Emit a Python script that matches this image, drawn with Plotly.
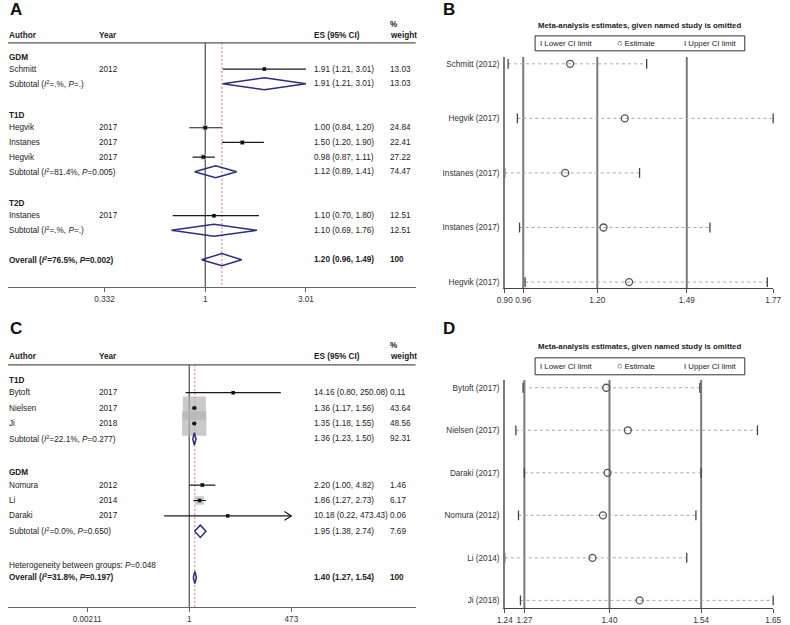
import math
import plotly.graph_objects as go

W, H = 790, 625
FONT = "Liberation Sans, Arial, Helvetica, sans-serif"
TXT = "#222222"
BODY = 8.2

# ---------------- Panel A data (forest plot) ----------------
a_groups = ["GDM", "T1D", "T2D"]
a_authors = [["Schmitt"], ["Hegvik", "Instanes", "Hegvik"], ["Instanes"]]
a_years = [[2012], [2017, 2017, 2017], [2017]]
a_es = [[1.91], [1.00, 1.50, 0.98], [1.10]]
a_lo = [[1.21], [0.84, 1.20, 0.87], [0.70]]
a_hi = [[3.01], [1.20, 1.90, 1.11], [1.80]]
a_wt = [[13.03], [24.84, 22.41, 27.22], [12.51]]
a_sub_es = [1.91, 1.12, 1.10]
a_sub_lo = [1.21, 0.89, 0.69]
a_sub_hi = [3.01, 1.41, 1.76]
a_sub_wt = [13.03, 74.47, 12.51]
a_sub_i2 = [".", "81.4", "."]
a_sub_p = [".", "0.005", "."]
a_overall = [1.20, 0.96, 1.49]          # ES, lower, upper
a_overall_wt = 100
a_overall_i2 = "76.5"
a_overall_p = "0.002"
a_het_p = None
a_ticks = [0.332, 1, 3.01]

# ---------------- Panel B data (sensitivity) ----------------
b_labels = ["Schmitt (2012)", "Hegvik (2017)", "Instanes (2017)", "Instanes (2017)", "Hegvik (2017)"]
b_est = [1.112, 1.289, 1.096, 1.220, 1.303]
b_lower = [0.911, 0.941, 0.900, 0.948, 0.966]
b_upper = [1.360, 1.770, 1.337, 1.565, 1.751]
b_overall = [0.96, 1.20, 1.49]

# ---------------- Panel C data (forest plot) ----------------
c_groups = ["T1D", "GDM"]
c_authors = [["Bytoft", "Nielsen", "Ji"], ["Nomura", "Li", "Daraki"]]
c_years = [[2017, 2017, 2018], [2012, 2014, 2017]]
c_es = [[14.16, 1.36, 1.35], [2.20, 1.86, 10.18]]
c_lo = [[0.80, 1.17, 1.18], [1.00, 1.27, 0.22]]
c_hi = [[250.08, 1.56, 1.55], [4.82, 2.73, 473.43]]
c_wt = [[0.11, 43.64, 48.56], [1.46, 6.17, 0.06]]
c_sub_es = [1.36, 1.95]
c_sub_lo = [1.23, 1.38]
c_sub_hi = [1.50, 2.74]
c_sub_wt = [92.31, 7.69]
c_sub_i2 = ["22.1", "0.0"]
c_sub_p = ["0.277", "0.650"]
c_overall = [1.40, 1.27, 1.54]
c_overall_wt = 100
c_overall_i2 = "31.8"
c_overall_p = "0.197"
c_het_p = "0.048"
c_ticks = [0.00211, 1, 473]

# ---------------- Panel D data (sensitivity) ----------------
d_labels = ["Bytoft (2017)", "Nielsen (2017)", "Daraki (2017)", "Nomura (2012)", "Li (2014)", "Ji (2018)"]
d_est = [1.395, 1.428, 1.397, 1.390, 1.374, 1.446]
d_lower = [1.268, 1.257, 1.270, 1.261, 1.240, 1.264]
d_upper = [1.538, 1.626, 1.540, 1.532, 1.518, 1.650]
d_overall = [1.27, 1.40, 1.54]


def PX(p):
    return p / W


def PY(p):
    return 1 - p / H


fig = go.Figure()
annotations = []
shapes = []


def note(x, y, text, yref="paper", size=BODY, bold=False, anchor="left", color=TXT):
    if bold:
        text = "<b>" + text + "</b>"
    annotations.append(dict(x=x, xref="paper", y=y, yref=yref, text=text, showarrow=False,
                            xanchor=anchor, yanchor="middle", borderpad=0,
                            font=dict(family=FONT, size=size, color=color)))


def fmt_w(w):
    return "100" if w >= 100 else f"{w:.2f}"


def fmt_es(e, l, h):
    return f"{e:.2f} ({l:.2f}, {h:.2f})"


def forest(xa, ya, groups, authors, years, es, lo, hi, wt, s_es, s_lo, s_hi, s_wt, s_i2, s_p,
           ov, ov_wt, ov_i2, ov_p, het_p, ticks, box_k, yrange, xrange_log, domain_px,
           ypx, header_px, pct_px, dia_h):
    yref = ya.replace("axis", "")
    xname = xa.replace("axis", "")
    cols = [0.5, 92, 311.5, 388.5]
    r = 1
    study_rows, grp_rows, sub_rows = [], [], []
    for g, auths in zip(groups, authors):
        grp_rows.append(r)
        r += 1
        study_rows.append(list(range(r, r + len(auths))))
        r += len(auths)
        sub_rows.append(r)
        r += 2
    het_row = r if het_p is not None else None
    ov_row = r + (1 if het_p is not None else 0)

    ytop, ybot = yrange[1], yrange[0]
    fig.add_trace(go.Scatter(x=[1, 1], y=[ytop, ybot], mode="lines", xaxis=xname, yaxis=yref,
                             line=dict(color="#5a5a5a", width=1.3), hoverinfo="skip", showlegend=False))
    fig.add_trace(go.Scatter(x=[ov[0], ov[0]], y=[ytop, ybot], mode="lines", xaxis=xname, yaxis=yref,
                             line=dict(color="#d07878", width=1, dash="2px,2px"),
                             hoverinfo="skip", showlegend=False))
    fx, fy, fw, flo, fhi = [], [], [], [], []
    for gi in range(len(groups)):
        for j in range(len(authors[gi])):
            fx.append(es[gi][j])
            fy.append(study_rows[gi][j])
            fw.append(wt[gi][j])
            flo.append(lo[gi][j])
            fhi.append(hi[gi][j])
    fig.add_trace(go.Scatter(x=fx, y=fy, mode="markers", xaxis=xname, yaxis=yref,
                             marker=dict(symbol="square", size=[box_k * math.sqrt(w) for w in fw],
                                         color="#b4b4b4", line=dict(width=0)),
                             hoverinfo="skip", showlegend=False))
    xmax = max(ticks)
    lx, ly = [], []
    ax_, ay_ = [], []
    for l, h, yy in zip(flo, fhi, fy):
        hh = min(h, xmax)
        lx += [l, hh, None]
        ly += [yy, yy, None]
        if h > xmax:
            ax_ += [xmax / 10 ** 0.18, xmax, xmax / 10 ** 0.18, None]
            ay_ += [yy - 0.28, yy, yy + 0.28, None]
    fig.add_trace(go.Scatter(x=lx + ax_, y=ly + ay_, mode="lines", xaxis=xname, yaxis=yref,
                             line=dict(color="#1a1a1a", width=1.2), hoverinfo="skip", showlegend=False))
    fig.add_trace(go.Scatter(x=fx, y=fy, mode="markers", xaxis=xname, yaxis=yref,
                             marker=dict(symbol="square", size=3.5, color="#111111"),
                             hoverinfo="skip", showlegend=False))
    dx, dy = [], []
    for e, l, h, yy in zip(s_es + [ov[0]], s_lo + [ov[1]], s_hi + [ov[2]], sub_rows + [ov_row]):
        dx += [l, e, h, e, l, None]
        dy += [yy, yy - dia_h, yy, yy + dia_h, yy, None]
    fig.add_trace(go.Scatter(x=dx, y=dy, mode="lines", xaxis=xname, yaxis=yref,
                             line=dict(color="#2c2c86", width=1.5), hoverinfo="skip", showlegend=False))

    note(PX(cols[0]), PY(header_px), "Author", bold=True)
    note(PX(cols[1]), PY(header_px), "Year", bold=True)
    note(PX(cols[2]), PY(header_px), "ES (95% CI)", bold=True)
    note(PX(cols[3]), PY(pct_px), "%", bold=True)
    note(PX(cols[3]), PY(header_px), "weight", bold=True)
    shapes.append(dict(type="line", xref="paper", yref=yref + " domain", x0=0, x1=PX(domain_px[1]),
                       y0=1, y1=1, line=dict(color="#555555", width=1.2)))
    for gi, g in enumerate(groups):
        note(PX(cols[0]), grp_rows[gi] + 0.18, g, yref=yref, bold=True)
        for j, a in enumerate(authors[gi]):
            rr = study_rows[gi][j]
            note(PX(cols[0]), rr, a, yref=yref)
            note(PX(cols[1]), rr, str(years[gi][j]), yref=yref)
            note(PX(cols[2]), rr, fmt_es(es[gi][j], lo[gi][j], hi[gi][j]), yref=yref)
            note(PX(cols[3]), rr, fmt_w(wt[gi][j]), yref=yref)
        rr = sub_rows[gi]
        note(PX(cols[0]), rr, f"Subtotal (<i>I</i><sup>2</sup>={s_i2[gi]}%, <i>P</i>={s_p[gi]})", yref=yref)
        note(PX(cols[2]), rr, fmt_es(s_es[gi], s_lo[gi], s_hi[gi]), yref=yref)
        note(PX(cols[3]), rr, fmt_w(s_wt[gi]), yref=yref)
    if het_row is not None:
        note(PX(cols[0]), het_row + 0.25, f"Heterogeneity between groups: <i>P</i>={het_p}", yref=yref)
    note(PX(cols[0]), ov_row, f"Overall (<i>I</i><sup>2</sup>={ov_i2}%, <i>P</i>={ov_p})", yref=yref, bold=True)
    note(PX(cols[2]), ov_row, fmt_es(ov[0], ov[1], ov[2]), yref=yref, bold=True)
    note(PX(cols[3]), ov_row, fmt_w(ov_wt), yref=yref, bold=True)

    return {
        xa: dict(type="log", domain=[PX(domain_px[0]), PX(domain_px[1])], range=xrange_log,
                 anchor=yref, tickvals=ticks, ticktext=[f"{t:g}" for t in ticks], tickangle=0,
                 ticks="outside", ticklen=4, tickcolor="#666666", tickwidth=1,
                 showline=True, linecolor="#666666", linewidth=1.2, showgrid=False, zeroline=False,
                 tickfont=dict(family=FONT, size=BODY, color="#333333")),
        ya: dict(domain=[PY(ypx[1]), PY(ypx[0])], range=yrange, anchor=xname,
                 showline=False, showticklabels=False, showgrid=False, zeroline=False, ticks=""),
    }


def sens(xa, ya, labels, est, lower, upper, overall, yrange, ypx, title_px, leg_px):
    yref = ya.replace("axis", "")
    xname = xa.replace("axis", "")
    rows = list(range(1, len(labels) + 1))
    ytop, ybot = yrange[1], yrange[0]
    for v in overall:
        fig.add_trace(go.Scatter(x=[v, v], y=[ytop, ybot], mode="lines", xaxis=xname, yaxis=yref,
                                 line=dict(color="#7a7a7a", width=2), hoverinfo="skip", showlegend=False))
    lx, ly = [], []
    for rr, l, u in zip(rows, lower, upper):
        lx += [l, u, None]
        ly += [rr, rr, None]
    fig.add_trace(go.Scatter(x=lx, y=ly, mode="lines", xaxis=xname, yaxis=yref,
                             line=dict(color="#a8a8a8", width=1, dash="dot"),
                             hoverinfo="skip", showlegend=False))
    fig.add_trace(go.Scatter(x=lower + upper, y=rows + rows, mode="markers", xaxis=xname, yaxis=yref,
                             marker=dict(symbol="line-ns", size=7, color="#444444",
                                         line=dict(width=1.3, color="#444444")),
                             cliponaxis=False, hoverinfo="skip", showlegend=False))
    fig.add_trace(go.Scatter(x=est, y=rows, mode="markers", xaxis=xname, yaxis=yref,
                             marker=dict(symbol="circle-open", size=7, color="#555555",
                                         line=dict(width=1.3, color="#555555")),
                             cliponaxis=False, hoverinfo="skip", showlegend=False))
    xmin, xmax = min(lower), max(upper)
    tv = [xmin] + overall + [xmax]
    note(PX(645), PY(title_px), "Meta-analysis estimates, given named study is omitted",
         size=7.8, bold=True, anchor="center")
    shapes.append(dict(type="rect", xref="paper", yref="paper", x0=PX(538), x1=PX(752),
                       y0=PY(leg_px[1]), y1=PY(leg_px[0]), line=dict(color="#333333", width=1)))
    ly_mid = PY((leg_px[0] + leg_px[1]) / 2)
    note(PX(542), ly_mid, "I Lower CI limit", size=7.8)
    note(PX(621), ly_mid, "<span style='font-size:9px'>○</span> Estimate", size=7.8)
    note(PX(689), ly_mid, "I Upper CI limit", size=7.8)
    return {
        xa: dict(domain=[PX(507), PX(781)], range=[xmin, xmax], anchor=yref,
                 tickvals=tv, ticktext=[f"{v:.2f}" for v in tv], tickangle=0, ticks="outside", ticklen=4,
                 tickcolor="#555555", showline=True, linecolor="#444444", linewidth=1.3,
                 showgrid=False, zeroline=False, tickfont=dict(family=FONT, size=BODY, color="#333333")),
        ya: dict(domain=[PY(ypx[1]), PY(ypx[0])], range=yrange, anchor=xname,
                 tickvals=rows, ticktext=labels, ticks="", showline=True, linecolor="#7a7a7a",
                 linewidth=1.6, showgrid=False, zeroline=False, ticklabelstandoff=2,
                 tickfont=dict(family=FONT, size=BODY, color="#333333")),
    }


layout_axes = {}
layout_axes.update(forest("xaxis", "yaxis", a_groups, a_authors, a_years, a_es, a_lo, a_hi, a_wt,
                          a_sub_es, a_sub_lo, a_sub_hi, a_sub_wt, a_sub_i2, a_sub_p,
                          a_overall, a_overall_wt, a_overall_i2, a_overall_p, a_het_p, a_ticks,
                          box_k=1.05, yrange=[16.87, 0.21], xrange_log=[-0.938, 1.0], domain_px=(0, 416),
                          ypx=(43, 288), header_px=36, pct_px=25, dia_h=0.41))
layout_axes.update(sens("xaxis2", "yaxis2", b_labels, b_est, b_lower, b_upper, b_overall,
                        yrange=[5.11, 0.872], ypx=(57, 289), title_px=26, leg_px=(36, 51)))
layout_axes.update(forest("xaxis3", "yaxis3", c_groups, c_authors, c_years, c_es, c_lo, c_hi, c_wt,
                          c_sub_es, c_sub_lo, c_sub_hi, c_sub_wt, c_sub_i2, c_sub_p,
                          c_overall, c_overall_wt, c_overall_i2, c_overall_p, c_het_p, c_ticks,
                          box_k=3.5, yrange=[15.92, 0.19], xrange_log=[-4.75, 5.93], domain_px=(0, 416),
                          ypx=(366, 609), header_px=358, pct_px=347, dia_h=0.4))
layout_axes.update(sens("xaxis4", "yaxis4", d_labels, d_est, d_lower, d_upper, d_overall,
                        yrange=[6.18, 0.8125], ypx=(381, 610), title_px=348, leg_px=(359, 376)))

for letter, xp, yp in [("A", 1, 10), ("B", 443, 10), ("C", 1, 330), ("D", 443, 330)]:
    note(PX(xp), PY(yp), letter, size=17, bold=True, color="#111111")

fig.update_layout(
    width=W, height=H, margin=dict(l=0, r=0, t=0, b=0), autosize=False,
    paper_bgcolor="white", plot_bgcolor="rgba(0,0,0,0)",
    showlegend=False, annotations=annotations, shapes=shapes,
    font=dict(family=FONT, size=BODY, color=TXT),
    **layout_axes,
)

fig.write_html(
    "out.html",
    config={"displayModeBar": False, "responsive": False, "staticPlot": True},
    post_script=("document.body.style.margin='0px';"
                 "document.body.style.overflow='hidden';"
                 "document.documentElement.style.overflow='hidden';"),
)
